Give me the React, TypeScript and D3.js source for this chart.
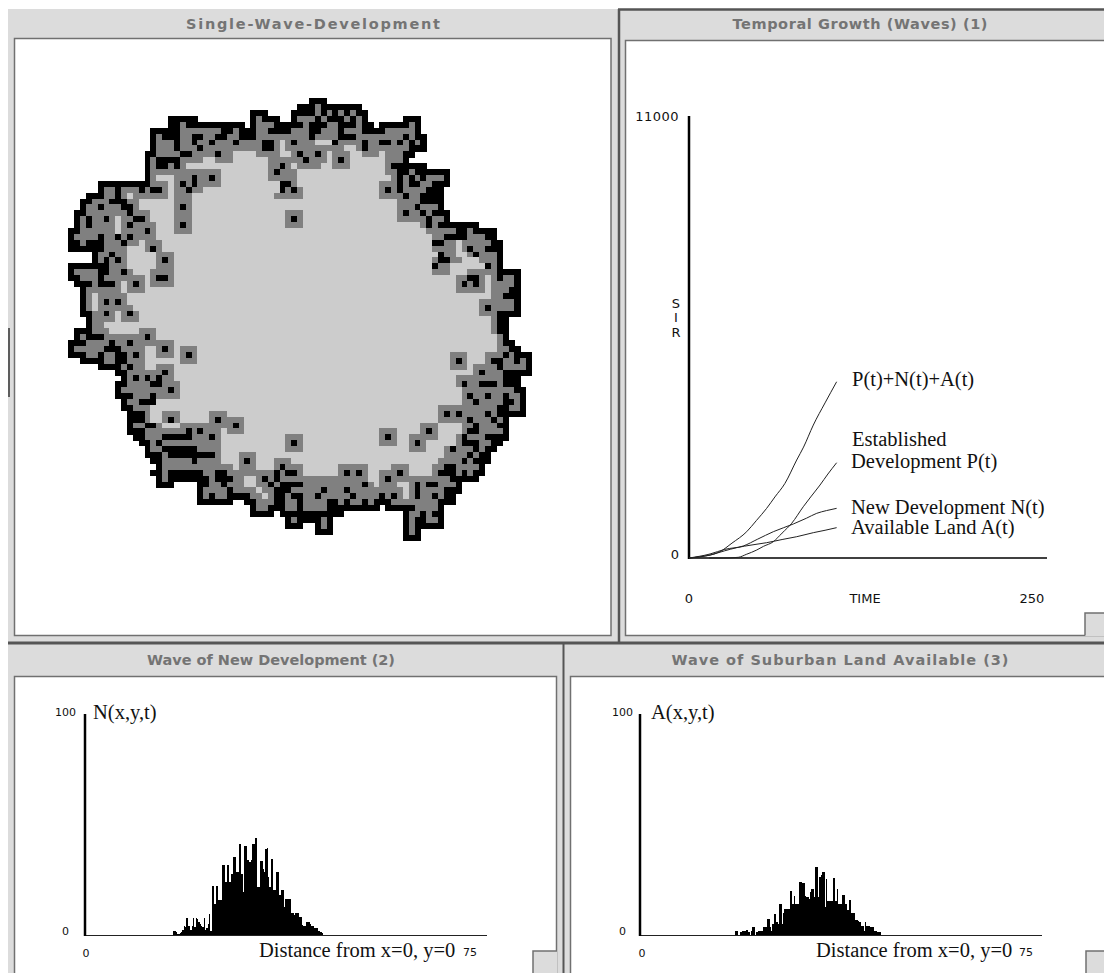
import * as d3 from 'd3';

const W = 1104;
const H = 973;

// lattice of the development map, one entry per row: runs "from-to" + state,
// painted left to right. # = black, g = dark grey, l = light grey
const latticeRows = [
  '41-43#',
  '39-49# 42g',
  '31-33# 38# 39g 40-41# 42g 43# 44g 45# 46g 47# 48g 49-50#',
  '17-21# 31# 32g 33-35# 38# 39-41g 42# 43g 44-46# 47g 48# 49g 50# 57-59#',
  '17-18# 19g 20-29# 31# 32-34g 35-39# 40g 41-43# 44-45g 46-48# 49g 50-51# 53-56# 57-58g 59#',
  '14-18# 19-25g 26-27# 28g 29# 30-33g 34-37# 38-40g 41-42# 43-45g 46# 47-49g 50-52# 53-58g 59#',
  '14# 15g 16-18# 19-20g 21-22# 23-24g 25-26# 27-28g 29-31# 32-40g 41# 42-45g 46-48# 49-56g 57# 58-59g 60#',
  '14# 15-17g 18# 19-20g 21# 22-23g 24# 25-27g 28# 29-32g 33-34# 35g 36l 37g 38# 39-41g 42-44l 45# 46-49g 50# 51-52g 53-54# 55g 56# 57g 58# 59g 60#',
  '14# 15-17g 18# 19-21g 22# 23-32g 33-34# 35g 36l 37-46g 47-48l 49g 50# 51-57g 58-60#',
  '13-14# 15-18g 19-20# 21-24g 25# 26-27g 28-31l 32-35g 36-37l 38g 39# 40-41g 42# 43g 44l 45-47g 48-49l 50-52g 53l 54-56g 57-58#',
  '13# 14g 15-18# 19-22g 23-24l 25-27g 28-33l 34-39g 40# 41-43g 44l 45g 46# 47g 48-53l 54-56g 57#',
  '13# 14g 15-16# 17g 18# 19g 20-33l 34-35g 36# 37g 38l 39-42g 43-44l 45-47g 48-53l 54g 55-60#',
  '13# 14-25g 26-33l 34g 35# 36-38g 39-53l 54-55g 56-57# 58g 59-64#',
  '13# 14g 15-17l 18-20g 21# 22-23g 24# 25g 26-33l 34-38g 39-54l 55g 56# 57g 58# 59g 60# 61-63g 64#',
  '5-13# 14-16g 17l 18g 19# 20g 21# 22-25g 26-35l 36-37# 38g 39-52l 53-55g 56# 57g 58-59# 60-61g 62-64#',
  '5# 6-7g 8# 9-11g 12# 13g 14-15# 16g 17l 18-19g 20# 21-22g 23-35l 36# 37g 38# 39g 40-52l 53g 54# 55g 56# 57-60g 61-63#',
  '3-5# 6-7g 8# 9g 10l 11-16g 17l 18-20g 21-34l 35-39g 40-52l 53-56g 57# 58-59g 60-63#',
  '2-3# 4-6g 7-9# 10-11g 12-17l 18-20g 21-55l 56-59g 60-63#',
  '2# 3-4g 5# 6-8g 9-10# 11g 12-17l 18g 19# 20g 21-55l 56-58g 59# 60-62g 63#',
  '1-2# 3-9g 10# 11-13g 14-17l 18-20g 21-36l 37-39g 40-55l 56g 57# 58-59g 60# 61g 62-64#',
  '1# 2g 3# 4-5g 6# 7g 8l 9-10g 11-12# 13g 14-17l 18-20g 21-36l 37g 38# 39g 40-55l 56-60g 61# 62-63g 64#',
  '1# 2g 3# 4-7g 8l 9g 10# 11-14g 15-17l 18g 19# 20g 21-36l 37-39g 40-59l 60g 61# 62g 63-69#',
  '0-1# 2-7g 8l 9-12g 13# 14g 15-17l 18-20g 21-60l 61-65g 66-67# 68-69g 70-72#',
  '0# 1-4g 5# 6-7g 8# 9g 10# 11-14g 15-61l 62-63g 64-67# 68-70g 71-72#',
  '0-1# 2g 3-5# 6-8g 9# 10-11g 12l 13-15g 16-61l 62-63# 64-65g 66l 67-72g 73#',
  '0-5# 6-9g 10-12l 13g 14# 15g 16-61l 62-65g 66l 67g 68# 69-70g 71-73#',
  '4# 5-6g 7# 8-9g 10-14l 15-17g 18-62l 63# 64-65g 66-67l 68g 69# 70-72g 73#',
  '4# 5g 6# 7g 8# 9g 10-14l 15g 16# 17g 18-61l 62g 63-64# 65-66g 67-69l 70-72g 73#',
  '0-6# 7-9g 10-14l 15-17g 18-61l 62# 63-64g 65-70l 71# 72g 73#',
  '0# 1-4g 5-6# 7-8g 9# 10g 11-13l 14-17g 18-61l 62-64g 65-67l 68-72g 73-76#',
  '0-1# 2-4g 5# 6-12g 13l 14g 15-16# 17g 18-65l 66-67g 68-69# 70g 71l 72g 73# 74-75g 76#',
  '1# 2g 3# 4g 5-7# 8g 9l 10g 11# 12g 13l 14-17g 18-65l 66g 67# 68g 69# 70g 71l 72-75g 76#',
  '2# 3-8g 9l 10-12g 13-65l 66-70g 71l 72-74g 75-76#',
  '2# 3g 4l 5-9g 10-71l 72-73g 74-76#',
  '2# 3g 4l 5g 6# 7g 8# 9g 10-69l 70-75g 76#',
  '2# 3g 4l 5-10g 11-69l 70g 71# 72-75g 76#',
  '2# 3-5g 6# 7g 8l 9g 10# 11g 12-69l 70-72g 73-76#',
  '3# 4-7g 8l 9-11g 12-71l 72g 73-74#',
  '3# 4-5g 6-71l 72g 73-74#',
  '1-3# 4-6g 7-11l 12-14g 15-71l 72g 73-74#',
  '1# 2g 3-5# 6-12g 13# 14g 15-72l 73g 74#',
  '0-2# 3-6g 7# 8-9g 10# 11-17g 18-72l 73g 74-75#',
  '0# 1-5g 6-8# 9-12g 13-14l 15g 16# 17g 18l 19-21g 22-72l 73-74g 75-76#',
  '0-1# 2-4g 5# 6-7g 8-9# 10g 11# 12g 13-14l 15-17g 18l 19g 20# 21g 22-64l 65-67g 68-70l 71-73g 74# 75g 76-78#',
  '2-5# 6-7g 8-9# 10-12g 13-18l 19-21g 22-64l 65g 66# 67g 68-70l 71g 72-73# 74-75g 76# 77g 78#',
  '5-8# 9g 10# 11-12g 13-14l 15-17g 18-64l 65-67g 68l 69-72g 73# 74-77g 78#',
  '8-9# 10-15g 16# 17g 18-68l 69g 70# 71-73g 74-78#',
  '9# 10g 11# 12g 13# 14g 15# 16-17g 18-65l 66-73g 74-76#',
  '8-9# 10-13g 14-15# 16-18g 19-65l 66g 67# 68-69g 70-72# 73g 74-76#',
  '8# 9-16g 17# 18g 19-66l 67-75g 76-77#',
  '8-10# 11-13g 14# 15-18g 19-66l 67g 68# 69-70g 71# 72-73g 74# 75-76g 77#',
  '9# 10-11g 12-14# 15-66l 67-68g 69# 70-73g 74-75# 76g 77#',
  '9-10# 11-13g 14-62l 63-72g 73-74# 75-76g 77#',
  '10-12# 13g 14-15l 16-18g 19-23l 24-26g 27-62l 63g 64# 65g 66# 67-70g 71# 72g 73-77#',
  '10-12# 13g 14-15l 16g 17# 18g 19-23l 24g 25# 26-29g 30-62l 63-67g 68# 69-71g 72# 73g 74#',
  '10# 11-12g 13-14# 15g 16-18l 19-27g 28# 29g 30-59l 60-62g 63-66l 67-68g 69# 70-72g 73-74#',
  '10-12# 13-19g 20# 21g 22# 23-25g 26l 27-29g 30-52l 53-55g 56-59l 60g 61# 62g 63-66l 67g 68-69# 70-73g 74#',
  '11-12# 13-15g 16-20# 21-23g 24# 25g 26-36l 37-39g 40-52l 53g 54# 55g 56-57l 58-62g 63-65l 66g 67# 68-70g 71-74#',
  '12-13# 14g 15# 16-25g 26-36l 37g 38# 39g 40-52l 53-55g 56-57l 58g 59# 60g 61-65l 66g 67-69# 70-71g 72-73#',
  '13# 14-15g 16-20# 21# 22-25g 26-36l 37-39g 40-57l 58-60g 61-63l 64g 65# 66-68g 69# 70g 71-72#',
  '13-15# 16g 17-24# 25g 26-28l 29-31g 32-63l 64-67g 68# 69g 70-71#',
  '14-15# 16-20g 21# 22-25g 26-28l 29g 30# 31g 32-34l 35-37g 38-62l 63-66g 67# 68g 69-71#',
  '15# 16-27g 28l 29-31g 32-34l 35g 36# 37-39g 40-45l 46-50g 51-54l 55-57g 58-61l 62-63g 64-65# 66-69g 70#',
  '14# 15-16g 17-22# 23-24g 25-26# 27-34g 35# 36g 37-38# 39g 40-45l 46g 47# 48g 49# 50g 51-52l 53-55g 56# 57g 58-61l 62g 63-65# 66g 67# 68g 69-70#',
  '15# 16g 17-23# 24g 25-27# 28-29g 30-31l 32g 33# 34g 35# 36-50g 51-52l 53g 54# 55-64g 65# 66g 67-69#',
  '15-17# 22-23# 24-25g 26# 27-29g 30-31l 32-33g 34# 35g 36-39# 40-49g 50# 51g 52l 53-55g 56-57l 58g 59# 60g 61-62# 63-65g 66#',
  '22# 23-26g 27# 28-31g 32l 33-34g 35-37# 38-42g 43# 44-46g 47# 48-56g 57l 58g 59# 60-63g 64-66#',
  '22# 23g 24# 25-26g 27-30# 31-32g 33l 34g 35-36# 37g 38-39# 40-41g 42# 43-47g 48# 49-52g 53# 54g 55# 56g 57l 58g 59# 60-61g 62# 63g 64-65#',
  '22-27# 30-31# 32-34g 35-36# 37-38g 39# 40-43g 44-45# 46g 47# 48-49g 50# 51-53g 54# 55-62g 63-65#',
  '31# 32-33g 34-36# 37-38g 39# 40-43g 44-52# 54-58# 59-62g 63#',
  '31-34# 36-46# 57# 58-59g 60# 61g 62-63#',
  '37# 38g 39-42# 43g 44# 57# 58g 59-60# 61-62g 63#',
  '37-39# 42# 43g 44# 57# 58g 59-63#',
  '42-44# 57# 58g 59#',
  '57-59#',
];

// Temporal growth: [time, count]
const totalCurve = [[0, 0], [8, 30], [21.6, 157], [30, 370], [40.3, 655], [47, 930], [54.2, 1235], [60, 1520], [67, 1857], [75.2, 2438], [80, 2760], [86.8, 3308], [95, 3860], [103.1, 4386]];
const establishedCurve = [[14, 0], [24, 0], [34.4, 17], [40, 90], [47.3, 199], [52, 290], [58.9, 406], [65, 620], [71.7, 863], [79.8, 1276], [85, 1520], [91.5, 1816], [97, 2090], [103.1, 2371]];
const newDevCurve = [[0, 0], [14.7, 100], [25, 215], [37.9, 299], [48, 470], [58.9, 655], [72.8, 846], [82, 990], [89.2, 1112], [96, 1180], [103.1, 1236]];
const availableCurve = [[0, 0], [14.7, 75], [25, 180], [33.3, 257], [44, 325], [54.2, 381], [65, 460], [75.2, 530], [86.8, 630], [95, 690], [103.1, 755]];

// wave histograms, 0.25 distance units per bin
const newDevStart = 16.4;
const newDevBins = [1.8, 1.8, 1.2, 0.3, 0.3, 0.8, 1.3, 2.2, 4, 3.5, 7.6, 4, 4, 2.2, 4, 7.6, 3.5, 7.6, 7.1, 6, 5.2, 4, 3.5, 7.6, 2.2, 3, 5.2, 9.5, 1.6, 22.3, 22.3, 14.2, 22.3, 22.3, 15.8, 15.8, 15.8, 31.6, 31.6, 24, 31.6, 31.6, 24, 27.8, 27.8, 35.4, 35.4, 28.6, 28.6, 41.4, 41.4, 27.8, 19.6, 40.2, 40.2, 33.8, 33.8, 33, 33.8, 41.4, 41.4, 44.1, 44.1, 21.8, 21.8, 33.5, 33.5, 30, 28.6, 39, 39.5, 26.3, 21.8, 34.2, 34.2, 20.3, 20.3, 28.3, 28.3, 18, 18, 20.3, 20.3, 12.5, 16.2, 16.2, 16.2, 16.2, 9.8, 9.8, 9, 10.1, 10.1, 10.1, 8.2, 8.2, 4.6, 4, 4, 5.7, 5.7, 5.7, 5, 4, 4, 3, 3, 3, 1.8, 1.8, 1.2, 0.8];
const availableStart = 17.7;
const availableBins = [1.6, 1.6, 0, 0, 1.2, 1.6, 1.6, 1.6, 2.1, 2.1, 1.2, 0, 2, 3.5, 3.5, 0, 1.2, 1.6, 1.6, 1.6, 1.6, 3.5, 3.5, 3.5, 7.3, 7.3, 3.5, 2, 5.2, 9.5, 9.5, 6, 5.2, 14.2, 14.2, 5.2, 9.8, 11.6, 11.6, 11.6, 11.6, 20, 20, 14.2, 17.6, 14.2, 14.2, 14.2, 24, 24, 23.6, 23.6, 17.6, 17, 17, 16.1, 19.6, 21, 21, 17, 30.8, 30.8, 17, 26.3, 27, 28.6, 28.6, 12.5, 25.2, 15.5, 15.5, 15.5, 15.5, 25.6, 25.6, 15.5, 21, 14.2, 14.2, 14.2, 18, 18, 14.2, 14.2, 11.2, 15.8, 15.8, 10.1, 10.1, 9.8, 6.8, 6.8, 6.5, 6, 4, 4, 1.6, 6, 4, 4, 4, 3.8, 3.5, 3.5, 1.6, 1.6, 1.2, 1.2, 1.2];

const colors: Record<string, string> = { '#': '#000', g: '#808080', l: '#cccccc' };
const CHROME = '#dcdcdc';
const LINE = '#707070';
const DARK = '#555';
const SERIF = '"Liberation Serif", serif';
const SANS = '"DejaVu Sans", sans-serif';

function parseRow(row: string) {
  const cells = new Map<number, string>();
  for (const m of row.matchAll(/(\d+)(?:-(\d+))?([#gl])/g)) {
    const a = +m[1];
    const b = m[2] ? +m[2] : a;
    for (let c = a; c <= b; c++) cells.set(c, m[3]);
  }
  return cells;
}

const lattice = latticeRows.map(parseRow);

// occupied cells touching the empty land are always the black front
function cellState(r: number, c: number) {
  for (let dr = -1; dr <= 1; dr++) {
    for (let dc = -1; dc <= 1; dc++) {
      if (!lattice[r + dr]?.has(c + dc)) return '#';
    }
  }
  return lattice[r].get(c) as string;
}

const colX = d3.scaleLinear().domain([0, 79]).range([68.3, 532]);
const rowY = d3.scaleLinear().domain([0, 75]).range([98.3, 540.5]);

const timeX = d3.scaleLinear().domain([0, 250]).range([689, 1047]);
const sirY = d3.scaleLinear().domain([0, 11000]).range([558, 116]);
const curveLine = d3.line<number[]>().x((d) => timeX(d[0])).y((d) => sirY(d[1])).curve(d3.curveMonotoneX);

function Panel({ x, y, w, h, title, cx, ty, tw, notch }: any) {
  return (
    <g>
      <rect x={x + 0.5} y={y + 0.5} width={w} height={h} fill="#fff" stroke={LINE} strokeWidth={1.5} />
      <text x={cx} y={ty} textAnchor="middle" fontFamily={SANS} fontWeight={700} fontSize={14.5} textLength={tw} lengthAdjust="spacing" fill="#747474">
        {title}
      </text>
      {notch && <rect x={notch[0]} y={notch[1]} width={x + w - notch[0] + 1} height={y + h - notch[1] + 1} fill={CHROME} />}
      {notch && <path d={`M${notch[0]},${y + h + 0.5}V${notch[1]}H${x + w + 1}`} fill="none" stroke={LINE} strokeWidth={1.5} />}
    </g>
  );
}

function Wave({ x0, base, bins, start, func, labelX, funcX, zeroX, zeroY, distX, seventyX }: any) {
  const x = d3.scaleLinear().domain([0, 75]).range([x0, x0 + 402]);
  const y = d3.scaleLinear().domain([0, 100]).range([base, base - 221]);
  const path = d3.path();
  bins.forEach((v: number, i: number) => {
    const d = start + i * 0.25;
    path.rect(x(d), y(v), x(d + 0.25) - x(d), y(0) - y(v));
  });
  return (
    <g>
      <path d={path.toString()} fill="#000" shapeRendering="crispEdges" />
      <line x1={x0} x2={x0 + 402} y1={base + 0.5} y2={base + 0.5} stroke="#222" strokeWidth={1} />
      <line x1={x0} x2={x0} y1={base + 1} y2={y(100)} stroke="#000" strokeWidth={2.5} />
      <text x={labelX} y={y(100) + 2} textAnchor="end" fontFamily={SANS} fontSize={11} fill="#111">100</text>
      <text x={labelX - 7} y={y(0) + 0} textAnchor="end" fontFamily={SANS} fontSize={11} fill="#111">0</text>
      <text x={funcX} y={y(100) + 5} fontFamily={SERIF} fontSize={20.5} fill="#111">{func}</text>
      <text x={zeroX} y={zeroY} textAnchor="middle" fontFamily={SANS} fontSize={11} fill="#111">0</text>
      <text x={distX} y={zeroY} fontFamily={SERIF} fontSize={20.5} fill="#111">Distance from x=0, y=0</text>
      <text x={seventyX} y={zeroY - 1} fontFamily={SANS} fontSize={11} fill="#111">75</text>
    </g>
  );
}

export default function App() {
  const cellW = colX(1) - colX(0);
  const cellH = rowY(1) - rowY(0);
  return (
    <svg width={W} height={H} viewBox={`0 0 ${W} ${H}`} style={{ position: 'absolute', left: 0, top: 0, background: '#fff' }}>
      <rect x={8} y={9} width={W - 8} height={H - 9} fill={CHROME} />
      <line x1={9} x2={9} y1={328} y2={397} stroke="#333" strokeWidth={1.5} />

      {/* window edges */}
      <path d={`M619,9V642M618,9.5H${W}`} fill="none" stroke={DARK} strokeWidth={2.5} />
      <path d={`M8,643H${W}`} fill="none" stroke={DARK} strokeWidth={3} />
      <path d={`M563.5,644V${H}`} fill="none" stroke={DARK} strokeWidth={2} />

      <Panel x={14} y={38} w={596.5} h={597} title="Single-Wave-Development" cx={313} ty={29} tw={254} />
      <Panel x={625} y={40} w={490} h={595} title="Temporal Growth (Waves) (1)" cx={860} ty={29} tw={255} notch={[1085, 613]} />
      <Panel x={14} y={676} w={542} h={310} title="Wave of New Development (2)" cx={271} ty={665} tw={248} notch={[533, 951]} />
      <Panel x={570} y={676} w={544} h={310} title="Wave of Suburban Land Available (3)" cx={840} ty={665} tw={337} notch={[1086, 951]} />

      {/* development map */}
      <g shapeRendering="crispEdges">
        {lattice.map((row, r) =>
          [...row.keys()].map((c) => (
            <rect key={`${r}-${c}`} x={colX(c)} y={rowY(r)} width={cellW + 0.3} height={cellH + 0.3} fill={colors[cellState(r, c)]} />
          )),
        )}
      </g>

      {/* temporal growth */}
      <g>
        <line x1={timeX(0)} x2={timeX(0)} y1={sirY(11000)} y2={sirY(0) + 1} stroke="#000" strokeWidth={2.5} />
        <line x1={timeX(0)} x2={timeX(250)} y1={sirY(0)} y2={sirY(0)} stroke="#000" strokeWidth={1.5} />
        {[totalCurve, establishedCurve, newDevCurve, availableCurve].map((c, i) => (
          <path key={i} d={curveLine(c) ?? ''} fill="none" stroke="#222" strokeWidth={1} />
        ))}
        <g fontFamily={SANS} fontSize={13} fill="#111">
          <text x={679} y={sirY(11000) + 5} textAnchor="end" letterSpacing={0.5}>11000</text>
          <text x={679} y={sirY(0) + 1} textAnchor="end">0</text>
          <text x={676} y={308} textAnchor="middle">S</text>
          <text x={676} y={322} textAnchor="middle">I</text>
          <text x={676} y={337} textAnchor="middle">R</text>
          <text x={timeX(0)} y={603} textAnchor="middle">0</text>
          <text x={865} y={603} textAnchor="middle">TIME</text>
          <text x={1032} y={603} textAnchor="middle">250</text>
        </g>
        <g fontFamily={SERIF} fontSize={20.5} fill="#111">
          <text x={852} y={386}>P(t)+N(t)+A(t)</text>
          <text x={852} y={446}>Established</text>
          <text x={851} y={468}>Development P(t)</text>
          <text x={851} y={514}>New Development N(t)</text>
          <text x={851} y={534}>Available Land A(t)</text>
        </g>
      </g>

      <Wave x0={85} base={935} bins={newDevBins} start={newDevStart} func="N(x,y,t)" labelX={76} funcX={93} zeroX={86} zeroY={957} distX={259} seventyX={463} />
      <Wave x0={640} base={935} bins={availableBins} start={availableStart} func="A(x,y,t)" labelX={633} funcX={651} zeroX={642} zeroY={957} distX={816} seventyX={1019} />
    </svg>
  );
}
